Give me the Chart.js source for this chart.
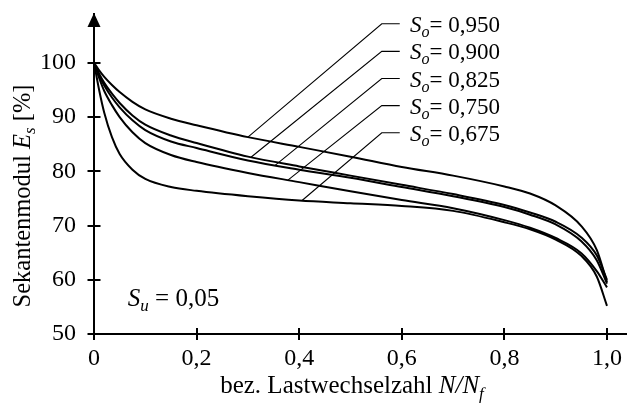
<!DOCTYPE html>
<html><head><meta charset="utf-8">
<script src="https://cdn.jsdelivr.net/npm/chart.js@4"></script>
<style>html,body{margin:0;padding:0;background:#fff;}</style>
</head><body>
<canvas id="c" width="627" height="403" style="width:627px;height:403px;display:block"></canvas>
<script>
// ---- data ----
const xValues   = [0, 0.01, 0.02, 0.035, 0.05, 0.075, 0.1, 0.15, 0.2, 0.3, 0.4, 0.5, 0.6, 0.7, 0.8, 0.85, 0.9, 0.95, 0.98, 1.0];
const seriesSo950 = [100, 98.6, 97.4, 95.9, 94.6, 92.8, 91.4, 89.7, 88.5, 86.3, 84.5, 82.7, 80.8, 79.2, 77.2, 75.9, 73.7, 69.9, 65.5, 59.6];
const seriesSo900 = [100, 98.0, 96.3, 94.3, 92.6, 90.3, 88.6, 86.6, 85.2, 82.7, 80.9, 79.2, 77.5, 75.8, 73.8, 72.4, 70.7, 67.8, 64.5, 60.0];
const seriesSo825 = [100, 97.7, 95.8, 93.6, 91.8, 89.4, 87.6, 85.5, 84.3, 82.0, 80.3, 78.8, 77.1, 75.4, 73.4, 72.0, 70.2, 67.1, 63.6, 59.3];
const seriesSo750 = [100, 97.2, 94.8, 92.2, 90.0, 87.2, 85.2, 83.0, 81.7, 79.7, 78.0, 76.3, 74.7, 73.2, 71.0, 69.6, 67.7, 64.9, 61.6, 58.6];
const seriesSo675 = [100, 95.0, 90.8, 86.3, 83.2, 80.3, 78.6, 77.1, 76.4, 75.4, 74.6, 74.1, 73.6, 72.7, 70.6, 69.3, 67.4, 64.4, 60.6, 55.2];
const seriesNames = ['0,950', '0,900', '0,825', '0,750', '0,675'];
const xTicks = [0, 0.2, 0.4, 0.6, 0.8, 1.0];
const xTickLabels = ['0', '0,2', '0,4', '0,6', '0,8', '1,0'];
const yTicks = [50, 60, 70, 80, 90, 100];
const yTickLabels = ['50', '60', '70', '80', '90', '100'];
const leaderX = [0.300, 0.306, 0.353, 0.378, 0.405];   // where each leader touches its curve
const labelY  = [107.2, 102.1, 97.1, 92.1, 87.1];      // label rows (value units)
const labelStubX = [0.561, 0.596];
const labelTextX = 0.616;
const suLabel = {x: 0.066, y: 56.3, text: '0,05'};

const FONT = '"Liberation Serif", "Times New Roman", serif';
const allSeries = [seriesSo950, seriesSo900, seriesSo825, seriesSo750, seriesSo675];

function interp(series, x) {
  for (let i = 1; i < xValues.length; i++) {
    if (x <= xValues[i]) {
      const t = (x - xValues[i-1]) / (xValues[i] - xValues[i-1]);
      return series[i-1] + t * (series[i] - series[i-1]);
    }
  }
  return series[series.length-1];
}

function richText(ctx, parts, x, y, align, size) {
  const sub = Math.round(size * 0.68);
  let w = 0;
  const items = parts.map(p => {
    const f = (p.it ? 'italic ' : '') + (p.sub ? sub : size) + 'px ' + FONT;
    ctx.font = f;
    const m = ctx.measureText(p.t).width;
    w += m;
    return {f, m, p};
  });
  let cx = align === 'center' ? x - w / 2 : x;
  ctx.textBaseline = 'alphabetic';
  ctx.textAlign = 'left';
  items.forEach(it => {
    ctx.font = it.f;
    ctx.fillText(it.p.t, cx, y + (it.p.sub ? size * 0.22 : 0));
    cx += it.m;
  });
}

const decor = {
  id: 'decor',
  afterDraw(chart) {
    const ctx = chart.ctx;
    const xs = chart.scales.x, ys = chart.scales.y;
    const ca = chart.chartArea;
    ctx.save();
    ctx.fillStyle = '#000';
    ctx.strokeStyle = '#000';
    ctx.lineWidth = 2;
    const x0 = xs.getPixelForValue(0), y0 = ys.getPixelForValue(50);
    yTicks.forEach(v => {
      const p = Math.round(ys.getPixelForValue(v));
      ctx.beginPath(); ctx.moveTo(x0 - 6.5, p); ctx.lineTo(x0 + 6.5, p); ctx.stroke();
    });
    xTicks.forEach(v => {
      const p = Math.round(xs.getPixelForValue(v));
      ctx.beginPath(); ctx.moveTo(p, y0 - 6); ctx.lineTo(p, y0 + 6); ctx.stroke();
    });
    // arrow head on y axis
    ctx.beginPath();
    ctx.moveTo(x0, ca.top - 1);
    ctx.lineTo(x0 - 6.5, ca.top + 13);
    ctx.lineTo(x0 + 6.5, ca.top + 13);
    ctx.closePath(); ctx.fill();
    // leaders + labels
    ctx.lineWidth = 1.1;
    allSeries.forEach((s, i) => {
      const px = xs.getPixelForValue(leaderX[i]);
      const py = ys.getPixelForValue(interp(s, leaderX[i]));
      const ly = ys.getPixelForValue(labelY[i]);
      ctx.beginPath();
      ctx.moveTo(px, py);
      ctx.lineTo(xs.getPixelForValue(labelStubX[0]), ly);
      ctx.lineTo(xs.getPixelForValue(labelStubX[1]), ly);
      ctx.stroke();
      richText(ctx, [{t:'S', it:true}, {t:'o', it:true, sub:true}, {t:'= ' + seriesNames[i]}],
        xs.getPixelForValue(labelTextX), ly + 8, 'left', 23);
    });
    richText(ctx, [{t:'S', it:true}, {t:'u', it:true, sub:true}, {t:' = ' + suLabel.text}],
      xs.getPixelForValue(suLabel.x), ys.getPixelForValue(suLabel.y) + 6, 'left', 25);
    richText(ctx, [{t:'bez. Lastwechselzahl '}, {t:'N/N', it:true}, {t:'f', it:true, sub:true}],
      352, 393, 'center', 25);
    ctx.translate(30, 196);
    ctx.rotate(-Math.PI / 2);
    richText(ctx, [{t:'Sekantenmodul '}, {t:'E', it:true}, {t:'s', it:true, sub:true}, {t:' [%]'}],
      0, 0, 'center', 24.5);
    ctx.restore();
  }
};

const mkTicks = (vals) => (scale) => { scale.ticks = vals.map(v => ({value: v})); };

new Chart(document.getElementById('c'), {
  type: 'line',
  data: {
    datasets: allSeries.map((s, i) => ({
      label: 'So = ' + seriesNames[i],
      data: xValues.map((x, j) => ({x: x, y: s[j]})),
      borderColor: '#000',
      borderWidth: 2,
      pointRadius: 0,
      fill: false,
      cubicInterpolationMode: 'monotone'
    }))
  },
  options: {
    responsive: false,
    animation: false,
    devicePixelRatio: 1,
    layout: {padding: {top: 14, right: 0, left: 0, bottom: 0}},
    plugins: {legend: {display: false}, tooltip: {enabled: false}},
    scales: {
      x: {
        type: 'linear', min: 0, max: 1.039,
        afterBuildTicks: mkTicks(xTicks),
        afterFit: (s) => { s.height = 69; s.paddingLeft = 0; s.paddingRight = 0; },
        grid: {display: false, drawTicks: false},
        border: {display: true, color: '#000', width: 2},
        ticks: {
          color: '#000', padding: 10, maxRotation: 0, autoSkip: false,
          font: {family: FONT, size: 24},
          callback: (v, i) => xTickLabels[i]
        }
      },
      y: {
        type: 'linear', min: 50, max: 109,
        afterBuildTicks: mkTicks(yTicks),
        afterFit: (s) => { s.width = 94; s.paddingTop = 0; s.paddingBottom = 0; },
        grid: {display: false, drawTicks: false},
        border: {display: true, color: '#000', width: 2},
        ticks: {
          color: '#000', padding: 18, autoSkip: false,
          font: {family: FONT, size: 24},
          callback: (v, i) => yTickLabels[i]
        }
      }
    }
  },
  plugins: [decor]
});
</script>
</body></html>
